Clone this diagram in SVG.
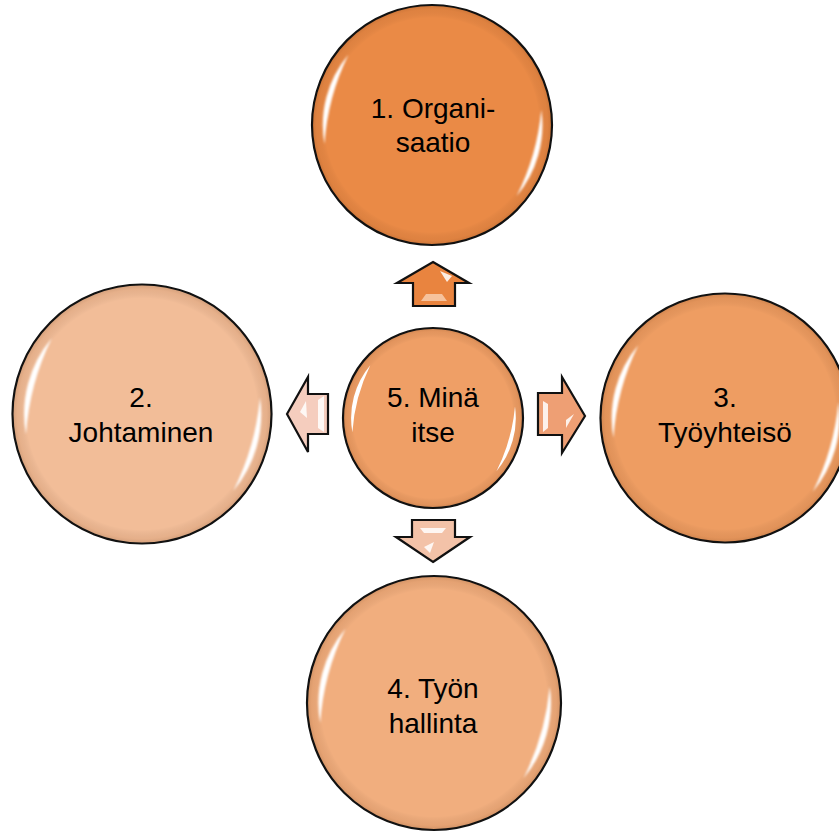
<svg xmlns="http://www.w3.org/2000/svg" xmlns:xlink="http://www.w3.org/1999/xlink" width="839" height="832" viewBox="0 0 839 832">
<style>
.ring{stroke:#111;stroke-width:2.2}
.lbl{font-family:"Liberation Sans",Arial,sans-serif;font-size:28px;fill:#000;text-anchor:middle}
.arr{stroke:#111;stroke-width:2.2;stroke-linejoin:miter}
.hl{fill:#fff;opacity:0.85}
</style>
<defs>
<filter id="blur" x="-20%" y="-20%" width="140%" height="140%"><feGaussianBlur stdDeviation="0.8"/></filter>
<radialGradient id="rim" cx="0.5" cy="0.5" r="0.5">
<stop offset="0.9" stop-color="#000" stop-opacity="0"/>
<stop offset="0.97" stop-color="#7a3a10" stop-opacity="0.1"/>
<stop offset="1" stop-color="#5a2a08" stop-opacity="0.18"/>
</radialGradient>
<g id="gloss" filter="url(#blur)">
<path d="M-69.7,-58.5 A91,91 0 0 0 -89.6,15.8 A200,200 0 0 1 -69.7,-58.5 Z" fill="#fff"/>
<path d="M91.1,-12.8 A92,92 0 0 1 70.5,59.2 A200,200 0 0 0 91.1,-12.8 Z" fill="#fff"/>
</g>
</defs>

<g id="connectors">
<g id="arrow-up">
<polygon class="arr" fill="#E9843F" points="433,262 469,283 455,283 455,306 413,306 413,283 397,283"/>
<polygon class="hl" points="440,271 452,276 447,282" opacity="0.8"/>
<polygon fill="#F7C9A6" points="421,301 447,301 442,294 426,294" opacity="0.9"/>
</g>
<g id="arrow-left">
<polygon class="arr" fill="#F5CDBE" points="287,414 308,377 308,394 328,394 328,434 308,434 308,452"/>
<polygon class="hl" points="300,412 306,401 307,418" />
<polygon class="hl" points="318,400 324,396 324,432 318,428" />
</g>
<g id="arrow-right">
<polygon class="arr" fill="#EE9F74" points="585,416 562,377 562,393 538,393 538,435 562,435 562,453"/>
<polygon class="hl" points="543,401 548,404 548,428 543,432" />
<polygon class="hl" points="566,420 574,414 566,428" />
</g>
<g id="arrow-down">
<polygon class="arr" fill="#F3C2A8" points="433,562 470,537 455,537 455,520 412,520 412,537 396,537"/>
<polygon class="hl" points="420,528 446,528 442,533 424,533" opacity="0.8"/>
<polygon class="hl" points="424,547 434,542 430,553" />
</g>
</g>

<g id="node1">
<circle class="ring" cx="432" cy="125" r="120" fill="#EA8A46"/>
<circle cx="432" cy="125" r="119" fill="url(#rim)"/>
<use xlink:href="#gloss" href="#gloss" transform="translate(432,125) scale(1.2)"/>
<text class="lbl" x="433" y="118">1. Organi-</text>
<text class="lbl" x="433" y="152">saatio</text>
</g>

<g id="node2">
<circle class="ring" cx="142" cy="414" r="129.5" fill="#F2BD98"/>
<circle cx="142" cy="414" r="128.5" fill="url(#rim)"/>
<use xlink:href="#gloss" href="#gloss" transform="translate(142,414) scale(1.295)"/>
<text class="lbl" x="141" y="407">2.</text>
<text class="lbl" x="141" y="442">Johtaminen</text>
</g>

<g id="node3">
<circle class="ring" cx="725" cy="418" r="124.5" fill="#EE9D62"/>
<circle cx="725" cy="418" r="123.5" fill="url(#rim)"/>
<use xlink:href="#gloss" href="#gloss" transform="translate(725,418) scale(1.245)"/>
<text class="lbl" x="725" y="407">3.</text>
<text class="lbl" x="725" y="442">Työyhteisö</text>
</g>

<g id="node4">
<circle class="ring" cx="434" cy="703" r="127" fill="#F1AE7E"/>
<circle cx="434" cy="703" r="126" fill="url(#rim)"/>
<use xlink:href="#gloss" href="#gloss" transform="translate(434,703) scale(1.27)"/>
<text class="lbl" x="433" y="698">4. Työn</text>
<text class="lbl" x="433" y="733">hallinta</text>
</g>

<g id="node5">
<circle class="ring" cx="433" cy="418" r="90" fill="#EF9F66"/>
<circle cx="433" cy="418" r="89" fill="url(#rim)"/>
<use xlink:href="#gloss" href="#gloss" transform="translate(433,418) scale(0.9)"/>
<text class="lbl" x="433" y="407">5. Minä</text>
<text class="lbl" x="433" y="442">itse</text>
</g>
</svg>
